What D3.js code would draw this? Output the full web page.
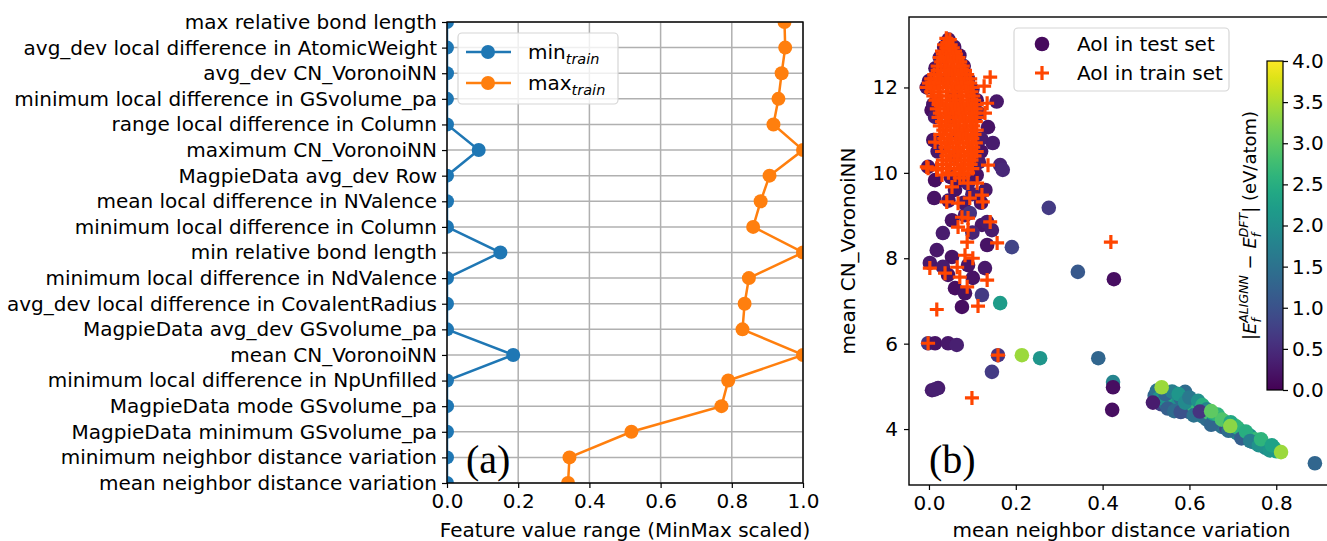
<!DOCTYPE html>
<html>
<head>
<meta charset="utf-8">
<script src="https://cdn.jsdelivr.net/npm/d3@7"></script>
<style>
body { margin: 0; background: #fff; }
text { font-family: "DejaVu Sans", sans-serif; fill: #000; }
</style>
</head>
<body>
<div id="chart"></div>
<script>
// ---- panel (a) data ----
var featureNames = [
    "max relative bond length",
    "avg_dev local difference in AtomicWeight",
    "avg_dev CN_VoronoiNN",
    "minimum local difference in GSvolume_pa",
    "range local difference in Column",
    "maximum CN_VoronoiNN",
    "MagpieData avg_dev Row",
    "mean local difference in NValence",
    "minimum local difference in Column",
    "min relative bond length",
    "minimum local difference in NdValence",
    "avg_dev local difference in CovalentRadius",
    "MagpieData avg_dev GSvolume_pa",
    "mean CN_VoronoiNN",
    "minimum local difference in NpUnfilled",
    "MagpieData mode GSvolume_pa",
    "MagpieData minimum GSvolume_pa",
    "minimum neighbor distance variation",
    "mean neighbor distance variation"
];
var minTrain = [0, 0, 0, 0, 0, 0.089, 0, 0, 0, 0.150, 0, 0, 0, 0.186, 0, 0, 0, 0, 0];
var maxTrain = [0.948, 0.950, 0.940, 0.931, 0.917, 1.0, 0.906, 0.881, 0.860, 1.0,
                0.848, 0.836, 0.830, 1.0, 0.790, 0.771, 0.518, 0.344, 0.340];
var rangeTicks = [0, 0.2, 0.4, 0.6, 0.8, 1.0];

// ---- panel (b) data ----
// test set atoms of interest: [mean neighbor distance variation, mean CN_VoronoiNN, |error| eV/atom]
var testPoints = [
    [0.045,13.12,0.2],[0.035,12.95,0.15],[0.058,12.95,0.2],[0.025,12.7,0.2],[0.07,12.75,0.15],
    [0.015,12.45,0.2],[0.08,12.5,0.2],[0.0,12.15,0.15],[-0.005,12.0,0.2],[0.09,12.2,0.2],
    [0.1,11.95,0.25],[0.006,11.47,0.15],[0.014,11.31,0.3],[0.01,11.6,0.2],[0.156,11.67,0.25],
    [0.11,11.7,0.2],[0.115,11.4,0.3],[0.136,11.07,0.2],[0.147,10.70,0.3],[0.01,10.77,0.2],
    [0.02,10.5,0.25],[0.12,10.8,0.3],[0.12,10.5,0.2],[0.164,10.18,0.4],[0.17,10.07,0.45],
    [0.115,10.25,0.3],[-0.002,10.14,0.2],[0.014,9.83,0.15],[0.012,9.41,0.2],
    [0.04,12.2,0.2],[0.06,11.8,0.15],[0.05,11.3,0.2],[0.07,10.9,0.2],[0.06,10.4,0.25],
    [0.05,9.9,0.2],[0.071,9.83,0.25],[0.09,9.75,0.3],[0.11,9.95,0.2],[0.06,9.6,0.2],
    [0.1,9.5,0.3],[0.13,9.6,0.25],[0.045,9.35,0.2],[0.08,9.3,0.25],[0.12,9.3,0.2],
    [0.053,8.89,0.2],[0.083,9.01,0.3],[0.094,9.06,0.6],[0.122,8.78,0.25],[0.134,8.85,0.3],
    [0.145,8.66,0.3],[0.032,8.59,0.3],[0.1,8.6,0.4],[0.134,8.31,0.2],[0.191,8.26,0.8],
    [0.018,8.19,0.25],[0.053,8.03,0.2],[0.002,7.89,0.25],[0.032,7.80,0.3],[0.044,7.61,0.2],
    [0.09,7.84,0.2],[0.129,7.77,0.25],[0.101,7.54,0.2],[0.06,7.30,0.15],[0.083,7.18,0.2],
    [0.122,7.14,0.7],[0.076,6.86,0.15],[0.164,6.95,2.2],[0.276,9.18,0.7],[0.343,7.68,1.1],
    [0.426,7.51,0.15],
    [-0.002,6.01,0.6],[0.014,6.01,0.2],[0.044,6.01,0.25],[0.064,5.97,0.35],[0.159,5.73,0.6],
    [0.145,5.34,0.7],[0.214,5.73,3.4],[0.256,5.66,2.1],[0.39,5.66,1.3],[0.007,4.91,0.3],
    [0.021,4.96,0.3],[0.014,4.93,0.35],[0.424,5.10,1.8],[0.424,4.98,0.15],[0.422,4.45,0.15],
    [0.52,4.78,1.3],[0.53,4.85,1.6],[0.525,4.68,1.1],[0.535,4.58,0.8],[0.54,4.70,1.2],
    [0.545,4.60,1.5],[0.55,4.80,2.2],[0.555,4.55,1.0],[0.56,4.68,1.8],[0.565,4.75,2.4],
    [0.57,4.50,1.1],[0.575,4.62,2.0],[0.58,4.72,1.4],[0.585,4.45,1.6],[0.59,4.87,1.4],
    [0.595,4.58,2.3],[0.60,4.40,1.2],[0.605,4.65,1.9],[0.61,4.52,2.6],[0.615,4.35,1.3],
    [0.62,4.55,2.7],[0.63,4.30,1.7],[0.635,4.48,2.2],[0.64,4.22,1.4],[0.645,4.38,2.8],
    [0.655,4.18,1.6],[0.66,4.30,2.4],[0.665,4.12,1.2],[0.67,4.25,2.1],[0.675,4.05,1.5],
    [0.68,4.18,2.5],[0.685,4.02,0.9],[0.70,3.96,2.0],[0.705,4.08,2.9],[0.71,3.90,1.8],
    [0.715,3.98,2.3],[0.72,3.85,1.5],[0.725,3.92,2.6],[0.73,3.80,2.2],[0.74,3.84,2.0],
    [0.745,3.70,1.4],[0.75,3.76,2.7],[0.755,3.66,2.1],[0.76,3.72,2.4],[0.77,3.62,2.8],
    [0.775,3.56,1.9],[0.78,3.60,2.2],[0.79,3.52,2.5],[0.795,3.56,2.6],[0.80,3.48,2.3],
    [0.525,4.90,1.5],[0.53,4.72,2.0],[0.545,4.82,1.3],[0.55,4.48,1.2],[0.56,4.88,1.7],
    [0.565,4.42,1.4],[0.575,4.82,2.1],[0.58,4.40,1.0],[0.59,4.62,1.9],[0.60,4.74,1.6],
    [0.61,4.32,1.5],[0.62,4.66,2.0],[0.63,4.56,2.5],[0.64,4.46,1.8],[0.65,4.10,1.3],
    [0.655,4.36,2.3],[0.665,4.34,2.6],[0.675,4.22,2.9],[0.69,3.96,1.4],[0.695,4.16,2.4],
    [0.71,4.04,2.6],[0.72,3.78,1.2],[0.73,3.94,2.5],[0.74,3.72,1.7],[0.76,3.62,2.0],
    [0.765,3.76,2.6],[0.785,3.50,2.1],[0.79,3.62,2.3],
    [0.624,4.41,0.6],[0.516,4.62,0.3],[0.536,4.98,3.4],[0.65,4.42,3.0],[0.694,4.07,3.3],
    [0.811,3.46,3.4],[0.889,3.20,1.3]
];
// train set atoms of interest: [mean neighbor distance variation, mean CN_VoronoiNN]
var trainPoints = [
    [0.040,13.15],[0.048,13.12],[0.035,13.0],[0.050,13.0],[0.042,13.05],
    [0.040,12.93],[0.055,12.93],[0.030,12.85],[0.045,12.85],[0.060,12.85],
    [0.032,12.78],[0.048,12.78],[0.062,12.78],
    [0.025,12.7],[0.040,12.7],[0.055,12.7],[0.068,12.7],
    [0.028,12.6],[0.043,12.6],[0.058,12.6],[0.072,12.6],
    [0.020,12.5],[0.035,12.5],[0.050,12.5],[0.065,12.5],[0.078,12.5],
    [0.020,12.4],[0.038,12.4],[0.055,12.4],[0.070,12.4],[0.083,12.4],
    [0.012,12.3],[0.028,12.3],[0.045,12.3],[0.060,12.3],[0.075,12.3],[0.088,12.3],
    [0.005,12.2],[0.022,12.2],[0.038,12.2],[0.053,12.2],[0.068,12.2],[0.085,12.2],[0.095,12.2],
    [0.000,12.1],[0.015,12.1],[0.032,12.1],[0.050,12.1],[0.065,12.1],[0.080,12.1],[0.095,12.1],
    [-0.005,12.0],[0.010,12.0],[0.025,12.0],[0.043,12.0],[0.060,12.0],[0.075,12.0],[0.090,12.0],[0.100,12.0],
    [0.005,11.9],[0.022,11.9],[0.040,11.9],[0.055,11.9],[0.070,11.9],[0.085,11.9],[0.098,11.9],
    [0.010,11.8],[0.025,11.8],[0.042,11.8],[0.058,11.8],[0.075,11.8],[0.090,11.8],[0.102,11.8],
    [0.015,11.7],[0.030,11.7],[0.048,11.7],[0.063,11.7],[0.078,11.7],[0.092,11.7],[0.104,11.7],
    [0.022,11.6],[0.040,11.6],[0.056,11.6],[0.072,11.6],[0.088,11.6],[0.100,11.6],[0.110,11.6],
    [0.018,11.5],[0.035,11.5],[0.050,11.5],[0.066,11.5],[0.082,11.5],[0.097,11.5],[0.108,11.5],
    [0.025,11.4],[0.043,11.4],[0.060,11.4],[0.076,11.4],[0.092,11.4],[0.105,11.4],
    [0.022,11.3],[0.038,11.3],[0.055,11.3],[0.070,11.3],[0.085,11.3],[0.100,11.3],[0.110,11.3],
    [0.030,11.2],[0.047,11.2],[0.063,11.2],[0.080,11.2],[0.095,11.2],[0.108,11.2],
    [0.025,11.1],[0.040,11.1],[0.058,11.1],[0.072,11.1],[0.088,11.1],[0.102,11.1],
    [0.033,11.0],[0.050,11.0],[0.066,11.0],[0.082,11.0],[0.097,11.0],[0.110,11.0],
    [0.026,10.9],[0.042,10.9],[0.060,10.9],[0.075,10.9],[0.090,10.9],[0.105,10.9],
    [0.035,10.8],[0.052,10.8],[0.068,10.8],[0.085,10.8],[0.100,10.8],
    [0.028,10.7],[0.045,10.7],[0.062,10.7],[0.078,10.7],[0.093,10.7],[0.108,10.7],
    [0.038,10.6],[0.055,10.6],[0.070,10.6],[0.088,10.6],[0.102,10.6],
    [0.030,10.5],[0.047,10.5],[0.064,10.5],[0.080,10.5],[0.096,10.5],[0.110,10.5],
    [0.040,10.4],[0.058,10.4],[0.073,10.4],[0.090,10.4],[0.105,10.4],
    [0.032,10.3],[0.050,10.3],[0.066,10.3],[0.082,10.3],[0.098,10.3],
    [0.030,10.2],[0.048,10.2],[0.065,10.2],[0.083,10.2],[0.096,10.2],
    [0.020,10.1],[0.040,10.1],[0.058,10.1],[0.075,10.1],[0.090,10.1],[0.100,10.1],
    [0.045,10.0],[0.070,10.0],[0.090,10.0],
    [0.030,9.95],[0.060,9.95],[0.080,9.95],
    [0.141,12.24],[0.127,12.03],[0.134,11.63],[0.129,11.40],[0.014,10.72],[0.136,10.18],
    [-0.005,10.14],[0.018,10.11],
    [-0.002,10.11],[0.018,10.07],[0.071,9.88],[0.053,9.67],[0.090,9.76],[0.111,9.76],
    [0.041,9.32],[0.067,9.29],[0.094,9.41],[0.122,9.48],[0.124,9.32],[0.076,8.96],
    [0.090,8.94],[0.067,8.73],[0.090,8.66],[0.141,8.85],[0.157,8.36],[0.088,8.38],
    [0.083,8.07],[0.101,8.00],[0.002,7.77],[0.037,7.65],[0.065,7.79],[0.071,7.56],
    [0.134,7.49],[0.088,7.33],[0.113,6.88],[0.018,6.80],
    [-0.002,6.01],[0.159,5.73],[0.099,4.73],[0.419,8.38]
];
var distTicks = [0, 0.2, 0.4, 0.6, 0.8];
var cnTicks = [4, 6, 8, 10, 12];
var errTicks = [0, 0.5, 1.0, 1.5, 2.0, 2.5, 3.0, 3.5, 4.0];

var fontSize = "20px";
var gridColour = "#b0b0b0";
var trainColour = "#ff4500";

var svg = d3.select("#chart")
    .append("svg")
    .attr("width", 1327)
    .attr("height", 541);
var defs = svg.append("defs");

drawRangePanel();
drawScatterPanel();

function styleAxis(g){
    g.select(".domain").remove();
    g.selectAll(".tick line").attr("stroke", "#000").attr("stroke-width", 1.2);
    g.selectAll(".tick text").style("font-size", fontSize).attr("fill", "#000");
}

function drawRangePanel(){
    var box = { left: 447, right: 803, top: 22, bottom: 483 };
    var xScale = d3.scaleLinear().domain([0, 1]).range([box.left, box.right]);
    var yScale = d3.scalePoint().domain(featureNames).range([box.top, box.bottom]);
    var g = svg.append("g");

    defs.append("clipPath").attr("id", "clipA")
        .append("rect")
        .attr("x", box.left).attr("y", box.top)
        .attr("width", box.right - box.left).attr("height", box.bottom - box.top);

    g.selectAll(".vgrid")
        .data(rangeTicks)
        .enter().append("line")
        .attr("x1", function(d){ return xScale(d); })
        .attr("x2", function(d){ return xScale(d); })
        .attr("y1", box.top).attr("y2", box.bottom)
        .attr("stroke", gridColour).attr("stroke-width", 1.5);
    g.selectAll(".hgrid")
        .data(featureNames)
        .enter().append("line")
        .attr("x1", box.left).attr("x2", box.right)
        .attr("y1", function(d){ return yScale(d); })
        .attr("y2", function(d){ return yScale(d); })
        .attr("stroke", gridColour).attr("stroke-width", 1.5);

    var series = [
        { key: "min", colour: "#1f77b4", values: minTrain },
        { key: "max", colour: "#ff7f0e", values: maxTrain }
    ];
    var line = d3.line()
        .x(function(d){ return xScale(d.v); })
        .y(function(d){ return yScale(d.name); });

    series.forEach(function(s){
        var pts = featureNames.map(function(n, i){ return { name: n, v: s.values[i] }; });
        var sg = g.append("g").attr("clip-path", "url(#clipA)");
        sg.append("path")
            .datum(pts)
            .attr("d", line)
            .attr("fill", "none")
            .attr("stroke", s.colour)
            .attr("stroke-width", 2.5);
        sg.selectAll("circle")
            .data(pts)
            .enter().append("circle")
            .attr("cx", function(d){ return xScale(d.v); })
            .attr("cy", function(d){ return yScale(d.name); })
            .attr("r", 7)
            .attr("fill", s.colour);
    });

    g.append("rect")
        .attr("x", box.left).attr("y", box.top)
        .attr("width", box.right - box.left).attr("height", box.bottom - box.top)
        .attr("fill", "none").attr("stroke", "#000").attr("stroke-width", 1.4);

    g.append("g")
        .attr("transform", "translate(" + box.left + ",0)")
        .call(d3.axisLeft(yScale).tickSize(5).tickPadding(5))
        .call(styleAxis);
    g.append("g")
        .attr("transform", "translate(0," + box.bottom + ")")
        .call(d3.axisBottom(xScale).tickValues(rangeTicks).tickFormat(d3.format(".1f")).tickSize(5).tickPadding(6))
        .call(styleAxis);

    g.append("text")
        .attr("x", (box.left + box.right) / 2).attr("y", 537)
        .attr("text-anchor", "middle")
        .style("font-size", fontSize)
        .text("Feature value range (MinMax scaled)");

    g.append("text")
        .attr("x", 466).attr("y", 473)
        .style("font-family", "'Liberation Serif', serif")
        .style("font-size", "40px")
        .text("(a)");

    // legend
    var lg = g.append("g");
    lg.append("rect")
        .attr("x", 458).attr("y", 33).attr("width", 160).attr("height", 71)
        .attr("rx", 4)
        .attr("fill", "#fff").attr("fill-opacity", 0.8)
        .attr("stroke", "#d6d6d6").attr("stroke-width", 1.2);
    series.forEach(function(s, i){
        var y = 52 + i * 31;
        lg.append("line").attr("x1", 466).attr("x2", 511).attr("y1", y).attr("y2", y)
            .attr("stroke", s.colour).attr("stroke-width", 2.5);
        lg.append("circle").attr("cx", 488).attr("cy", y).attr("r", 7).attr("fill", s.colour);
        var t = lg.append("text").attr("x", 528).attr("y", y + 7).style("font-size", fontSize);
        t.append("tspan").text(s.key);
        t.append("tspan").attr("dy", 5).style("font-style", "italic").style("font-size", "14.5px").text("train");
    });
}

function drawScatterPanel(){
    var box = { left: 909, right: 1334, top: 17, bottom: 485 };
    var xScale = d3.scaleLinear().domain([-0.046, 0.933]).range([box.left, box.right]);
    var yScale = d3.scaleLinear().domain([2.69, 13.65]).range([box.bottom, box.top]);
    var colour = d3.scaleSequential(d3.interpolateViridis).domain([0, 4]);
    var g = svg.append("g");

    defs.append("clipPath").attr("id", "clipB")
        .append("rect")
        .attr("x", box.left).attr("y", box.top)
        .attr("width", box.right - box.left).attr("height", box.bottom - box.top);

    var pg = g.append("g").attr("clip-path", "url(#clipB)");
    pg.selectAll(".test")
        .data(testPoints)
        .enter().append("circle")
        .attr("class", "test")
        .attr("cx", function(d){ return xScale(d[0]); })
        .attr("cy", function(d){ return yScale(d[1]); })
        .attr("r", 7.3)
        .attr("fill", function(d){ return colour(d[2]); });
    pg.selectAll(".train")
        .data(trainPoints)
        .enter().append("path")
        .attr("class", "train")
        .attr("transform", function(d){ return "translate(" + xScale(d[0]) + "," + yScale(d[1]) + ")"; })
        .attr("d", "M-7,0H7M0,-7V7")
        .attr("stroke", trainColour)
        .attr("stroke-width", 3.2)
        .attr("fill", "none");

    g.append("rect")
        .attr("x", box.left).attr("y", box.top)
        .attr("width", box.right - box.left).attr("height", box.bottom - box.top)
        .attr("fill", "none").attr("stroke", "#000").attr("stroke-width", 1.4);

    g.append("g")
        .attr("transform", "translate(" + box.left + ",0)")
        .call(d3.axisLeft(yScale).tickValues(cnTicks).tickFormat(d3.format("d")).tickSize(5).tickPadding(6))
        .call(styleAxis);
    g.append("g")
        .attr("transform", "translate(0," + box.bottom + ")")
        .call(d3.axisBottom(xScale).tickValues(distTicks).tickFormat(d3.format(".1f")).tickSize(5).tickPadding(6))
        .call(styleAxis);

    g.append("text")
        .attr("x", (box.left + box.right) / 2).attr("y", 537)
        .attr("text-anchor", "middle")
        .style("font-size", fontSize)
        .text("mean neighbor distance variation");
    g.append("text")
        .attr("transform", "translate(855," + (box.top + box.bottom) / 2 + ") rotate(-90)")
        .attr("text-anchor", "middle")
        .style("font-size", fontSize)
        .text("mean CN_VoronoiNN");

    g.append("text")
        .attr("x", 929).attr("y", 473)
        .style("font-family", "'Liberation Serif', serif")
        .style("font-size", "40px")
        .text("(b)");

    // legend
    var lg = g.append("g");
    lg.append("rect")
        .attr("x", 1014).attr("y", 28).attr("width", 215).attr("height", 63)
        .attr("rx", 4)
        .attr("fill", "#fff").attr("fill-opacity", 0.8)
        .attr("stroke", "#d6d6d6").attr("stroke-width", 1.2);
    lg.append("circle").attr("cx", 1042).attr("cy", 44).attr("r", 7.3).attr("fill", colour(0.1));
    lg.append("path").attr("transform", "translate(1042,73)").attr("d", "M-7,0H7M0,-7V7")
        .attr("stroke", trainColour).attr("stroke-width", 3.2);
    lg.append("text").attr("x", 1077).attr("y", 51).style("font-size", fontSize).text("AoI in test set");
    lg.append("text").attr("x", 1077).attr("y", 80).style("font-size", fontSize).text("AoI in train set");

    // colour bar
    var cb = { left: 1267, right: 1283, top: 61, bottom: 390 };
    var cScale = d3.scaleLinear().domain([0, 4]).range([cb.bottom, cb.top]);
    var grad = defs.append("linearGradient").attr("id", "viridisBar")
        .attr("x1", 0).attr("y1", 1).attr("x2", 0).attr("y2", 0);
    grad.selectAll("stop")
        .data(d3.range(0, 1.0001, 0.05))
        .enter().append("stop")
        .attr("offset", function(d){ return d; })
        .attr("stop-color", function(d){ return d3.interpolateViridis(d); });
    g.append("rect")
        .attr("x", cb.left).attr("y", cb.top)
        .attr("width", cb.right - cb.left).attr("height", cb.bottom - cb.top)
        .attr("fill", "url(#viridisBar)")
        .attr("stroke", "#000").attr("stroke-width", 1.2);
    g.append("g")
        .attr("transform", "translate(" + cb.right + ",0)")
        .call(d3.axisRight(cScale).tickValues(errTicks).tickFormat(d3.format(".1f")).tickSize(5).tickPadding(4))
        .call(styleAxis);

    var lab = g.append("text")
        .attr("transform", "translate(1256," + (cb.top + cb.bottom) / 2 + ") rotate(-90)")
        .attr("text-anchor", "middle")
        .style("font-size", "18px");
    lab.append("tspan").text("|");
    lab.append("tspan").style("font-style", "italic").text("E");
    lab.append("tspan").attr("dy", 5).style("font-style", "italic").style("font-size", "12.5px").text("f");
    lab.append("tspan").attr("dx", -4.5).attr("dy", -13).style("font-style", "italic").style("font-size", "12.5px").text("ALIGNN");
    lab.append("tspan").attr("dy", 8).text(" \u2212 ");
    lab.append("tspan").style("font-style", "italic").text("E");
    lab.append("tspan").attr("dy", 5).style("font-style", "italic").style("font-size", "12.5px").text("f");
    lab.append("tspan").attr("dx", -4.5).attr("dy", -13).style("font-style", "italic").style("font-size", "12.5px").text("DFT");
    lab.append("tspan").attr("dy", 8).text("| (eV/atom)");
}
</script>
</body>
</html>
